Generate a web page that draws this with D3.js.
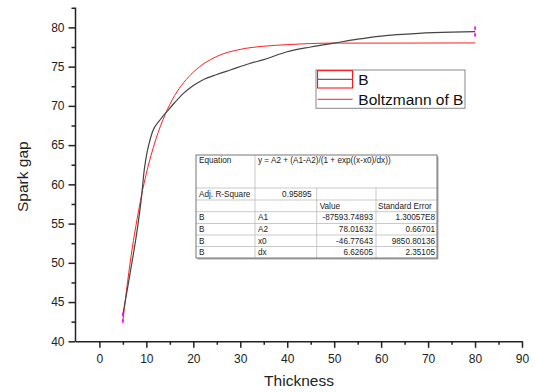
<!DOCTYPE html>
<html>
<head>
<meta charset="utf-8">
<script src="https://cdn.jsdelivr.net/npm/d3@7"></script>
<style>
  body { margin: 0; background: #fff; }
  svg { font-family: "Liberation Sans", Arial, sans-serif; }
</style>
</head>
<body>
<svg id="svg"></svg>
<script>
const svgWidth = 534;
const svgHeight = 392;

// measured B series (thickness, spark gap)
const bX = [5, 6, 7, 8, 9, 9.5, 10, 10.5, 11.3, 12.9, 14.7, 16, 17.9, 20, 22, 25, 28, 32, 35, 40, 45, 50, 55, 60, 68, 75, 80];
const bY = [43.4, 46.8, 50.3, 54, 58.6, 61.6, 63.6, 65, 66.7, 68.2, 69.5, 70.4, 71.6, 72.6, 73.3, 74, 74.6, 75.4, 75.9, 76.9, 77.5, 78, 78.5, 78.9, 79.25, 79.4, 79.45];

// Boltzmann fit curve
const fitX = [5, 6, 7, 8, 9, 10, 12, 14, 16, 18, 20, 25, 30, 35, 40, 50, 60, 80];
const fitY = [42.6, 47.6, 51.9, 55.5, 58.7, 61.4, 65.7, 68.9, 71.3, 73.0, 74.3, 76.3, 77.2, 77.6, 77.8, 78.0, 78.0, 78.02];

// magenta end markers
const markX = [5, 5, 80, 80];
const markY = [43.4, 42.6, 79.9, 79.05];

const xTicks = [0, 10, 20, 30, 40, 50, 60, 70, 80, 90];
const yTicks = [40, 45, 50, 55, 60, 65, 70, 75, 80];

const legendLabels = ["B", "Boltzmann of B"];

const tableRows = [
  ["B", "A1", "-87593.74893", "1.30057E8"],
  ["B", "A2", "78.01632", "0.66701"],
  ["B", "x0", "-46.77643", "9850.80136"],
  ["B", "dx", "6.62605", "2.35105"]
];
const equationText = "y = A2 + (A1-A2)/(1 + exp((x-x0)/dx))";
const adjR2 = "0.95895";

const svg = d3.select("#svg").attr("width", svgWidth).attr("height", svgHeight);

const xScale = d3.scaleLinear().domain([-5.2, 90]).range([75, 522]);
const yScale = d3.scaleLinear().domain([40, 82.6]).range([341.3, 7]);

// axes
const xAxis = svg.append("g").attr("transform", "translate(0,341.3)");
xAxis.append("g")
  .call(d3.axisBottom(xScale).tickValues(d3.range(5, 90, 10)).tickSize(3.5).tickFormat(""))
  .call(g => g.select(".domain").remove());
xAxis.append("g")
  .call(d3.axisBottom(xScale).tickValues(xTicks).tickSize(6.5).tickPadding(7).tickSizeOuter(0))
  .call(g => g.selectAll("text").style("font-size", "12px").attr("fill", "#222"));

const yAxis = svg.append("g").attr("transform", "translate(75,0)");
yAxis.append("g")
  .call(d3.axisLeft(yScale).tickValues(d3.range(42.5, 82.6, 5)).tickSize(3.5).tickFormat(""))
  .call(g => g.select(".domain").remove());
yAxis.append("g")
  .call(d3.axisLeft(yScale).tickValues(yTicks).tickSize(6.5).tickPadding(4).tickSizeOuter(0))
  .call(g => g.selectAll("text").style("font-size", "12px").attr("fill", "#222"));

svg.selectAll(".domain, .tick line").attr("stroke", "#222").attr("stroke-width", 1.5);

// titles
svg.append("text")
  .attr("x", 299).attr("y", 386)
  .attr("text-anchor", "middle")
  .style("font-size", "15.5px").attr("fill", "#222")
  .text("Thickness");

svg.append("text")
  .attr("transform", "translate(28,176.7) rotate(-90)")
  .attr("text-anchor", "middle")
  .style("font-size", "15.5px").attr("fill", "#222")
  .text("Spark gap");

// curves
const line = d3.line()
  .x(d => xScale(d[0]))
  .y(d => yScale(d[1]))
  .curve(d3.curveMonotoneX);

svg.append("path")
  .datum(d3.zip(fitX, fitY))
  .attr("d", line)
  .attr("fill", "none")
  .attr("stroke", "#ff2020")
  .attr("stroke-width", 1);

svg.append("path")
  .datum(d3.zip(bX, bY))
  .attr("d", line)
  .attr("fill", "none")
  .attr("stroke", "#444")
  .attr("stroke-width", 1.2);

svg.selectAll(".mark")
  .data(d3.zip(markX, markY))
  .join("path")
  .attr("class", "mark")
  .attr("transform", d => `translate(${xScale(d[0])},${yScale(d[1])})`)
  .attr("d", "M0,-2V2M-1,0H1")
  .attr("stroke", "#ff00ff")
  .attr("stroke-width", 1.3);

// legend
const legend = svg.append("g");
legend.append("rect")
  .attr("x", 316).attr("y", 70).attr("width", 149).attr("height", 38.3)
  .attr("fill", "#fff").attr("stroke", "#888").attr("stroke-width", 1);
legend.append("rect")
  .attr("x", 317.6).attr("y", 70.7).attr("width", 35).attr("height", 17.3)
  .attr("fill", "none").attr("stroke", "#f00").attr("stroke-width", 1);
legend.append("line")
  .attr("x1", 317.6).attr("x2", 352.6).attr("y1", 79.3).attr("y2", 79.3)
  .attr("stroke", "#666").attr("stroke-width", 1.3);
legend.append("line")
  .attr("x1", 317.6).attr("x2", 352.6).attr("y1", 99.3).attr("y2", 99.3)
  .attr("stroke", "#ff2020").attr("stroke-width", 1);
legend.selectAll(".leg-label")
  .data(legendLabels)
  .join("text")
  .attr("class", "leg-label")
  .attr("x", 358.3)
  .attr("y", (d, i) => 85 + i * 20)
  .style("font-size", "15.5px").attr("fill", "#111")
  .text(d => d);

// fit results table
const colX = [196, 255, 316.7, 376, 437];
const rowY = [155, 188, 200, 211.7, 223.5, 235, 246.5, 258];
const table = svg.append("g").style("font-size", "8.2px").attr("fill", "#222");

table.append("rect")
  .attr("x", colX[0] + 1.5).attr("y", rowY[0] + 1.5)
  .attr("width", colX[4] - colX[0]).attr("height", rowY[7] - rowY[0])
  .attr("fill", "#aaa");
table.append("rect")
  .attr("x", colX[0]).attr("y", rowY[0])
  .attr("width", colX[4] - colX[0]).attr("height", rowY[7] - rowY[0])
  .attr("fill", "#fff");

// grid lines
rowY.slice(1, 7).forEach(y => {
  table.append("line")
    .attr("x1", colX[0]).attr("x2", colX[4]).attr("y1", y).attr("y2", y)
    .attr("stroke", "#bbb").attr("stroke-width", 0.8);
});
table.append("line")
  .attr("x1", colX[1]).attr("x2", colX[1]).attr("y1", rowY[0]).attr("y2", rowY[7])
  .attr("stroke", "#bbb").attr("stroke-width", 0.8);
[colX[2], colX[3]].forEach(x => {
  table.append("line")
    .attr("x1", x).attr("x2", x).attr("y1", rowY[1]).attr("y2", rowY[7])
    .attr("stroke", "#bbb").attr("stroke-width", 0.8);
});
table.append("rect")
  .attr("x", colX[0]).attr("y", rowY[0])
  .attr("width", colX[4] - colX[0]).attr("height", rowY[7] - rowY[0])
  .attr("fill", "none").attr("stroke", "#777").attr("stroke-width", 1);

table.append("text").attr("x", colX[0] + 3).attr("y", rowY[0] + 8).text("Equation");
table.append("text").attr("x", colX[1] + 3).attr("y", rowY[0] + 8).text(equationText);
table.append("text").attr("x", colX[0] + 3).attr("y", rowY[1] + 8.5).text("Adj. R-Square");
table.append("text").attr("x", colX[2] - 5).attr("y", rowY[1] + 8.5)
  .attr("text-anchor", "end").text(adjR2);
table.append("text").attr("x", colX[2] + 3).attr("y", rowY[2] + 8.5).text("Value");
table.append("text").attr("x", colX[3] + 2).attr("y", rowY[2] + 8.5).text("Standard Error");

tableRows.forEach((r, i) => {
  const y = rowY[3 + i] + 8.5;
  table.append("text").attr("x", colX[0] + 3).attr("y", y).text(r[0]);
  table.append("text").attr("x", colX[1] + 3).attr("y", y).text(r[1]);
  table.append("text").attr("x", colX[3] - 3).attr("y", y).attr("text-anchor", "end").text(r[2]);
  table.append("text").attr("x", colX[4] - 2).attr("y", y).attr("text-anchor", "end").text(r[3]);
});
</script>
</body>
</html>
